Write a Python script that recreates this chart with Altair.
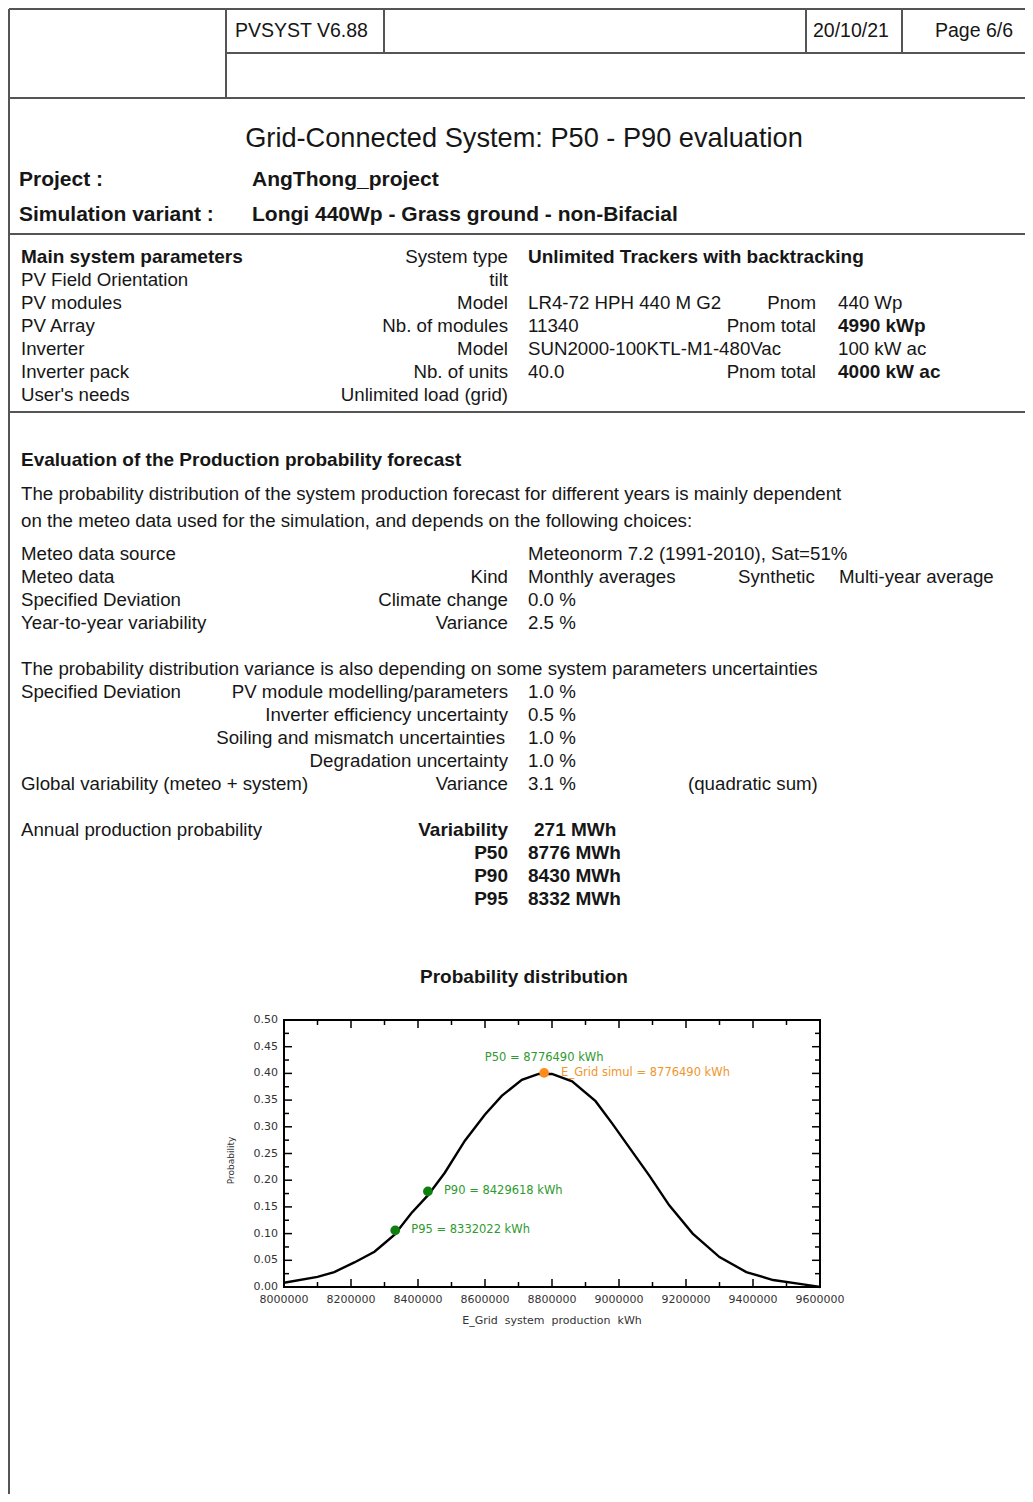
import altair as alt
import pandas as pd

# ---------------- chart values ----------------
E_GRID = [8000000, 8100000, 8150000, 8210000, 8270000, 8300000, 8330000, 8380000,
          8430000, 8480000, 8540000, 8600000, 8650000, 8710000, 8760000, 8800000,
          8860000, 8930000, 8980000, 9040000, 9090000, 9150000, 9220000, 9300000,
          9380000, 9460000, 9550000, 9600000]
PROB = [0.008, 0.019, 0.028, 0.046, 0.066, 0.082, 0.098, 0.138,
        0.172, 0.214, 0.274, 0.323, 0.358, 0.388, 0.399, 0.399,
        0.385, 0.348, 0.306, 0.253, 0.209, 0.153, 0.100, 0.056,
        0.028, 0.013, 0.005, 0.000]

P_NAMES = ["P95", "P90", "P50"]
P_VALUES = [8332022, 8429618, 8776490]
P_PROB = [0.106, 0.179, 0.401]
E_GRID_SIMUL = 8776490

X_LABEL_VALUES = [8000000, 8200000, 8400000, 8600000, 8800000, 9000000, 9200000, 9400000, 9600000]
X_MINOR_TICKS = [8100000, 8300000, 8500000, 8700000, 8900000, 9100000, 9300000, 9500000]
Y_LABEL_VALUES = [0.00, 0.05, 0.10, 0.15, 0.20, 0.25, 0.30, 0.35, 0.40, 0.45, 0.50]
Y_MINOR_TICKS = [0.025, 0.075, 0.125, 0.175, 0.225, 0.275, 0.325, 0.375, 0.425, 0.475]

X_TITLE = "E_Grid\u00a0\u00a0system\u00a0\u00a0production\u00a0\u00a0kWh"
Y_TITLE = "Probability"

# ---------------- document text ----------------
HEADER_TEXT = ["PVSYST V6.88", "20/10/21", "Page 6/6"]
TITLE = "Grid-Connected System: P50 - P90 evaluation"
PROJECT_LABELS = ["Project :", "Simulation variant :"]
PROJECT_VALUES = ["AngThong_project", "Longi 440Wp - Grass ground - non-Bifacial"]

SYS_COL1 = ["Main system parameters", "PV Field Orientation", "PV modules", "PV Array",
            "Inverter", "Inverter pack", "User's needs"]
SYS_COL2 = ["System type", "tilt", "Model", "Nb. of modules", "Model", "Nb. of units",
            "Unlimited load (grid)"]
SYS_COL3 = ["Unlimited Trackers with backtracking", "", "LR4-72 HPH 440 M G2", "11340",
            "SUN2000-100KTL-M1-480Vac", "40.0", ""]
SYS_COL4 = ["", "", "Pnom", "Pnom total", "", "Pnom total", ""]
SYS_COL5 = ["", "", "440 Wp", "4990 kWp", "100 kW ac", "4000 kW ac", ""]

EVAL_TITLE = "Evaluation of the Production probability forecast"
EVAL_PARA = ["The probability distribution of the system production forecast for different years is mainly dependent",
             "on the meteo data used for the simulation, and depends on the following choices:"]
METEO_COL1 = ["Meteo data source", "Meteo data", "Specified Deviation", "Year-to-year variability"]
METEO_COL2 = ["", "Kind", "Climate change", "Variance"]
METEO_COL3 = ["Meteonorm 7.2 (1991-2010), Sat=51%", "Monthly averages", "0.0 %", "2.5 %"]
METEO_EXTRA = ["Synthetic", "Multi-year average"]

UNC_INTRO = "The probability distribution variance is also depending on some system parameters uncertainties"
UNC_COL1 = ["Specified Deviation", "", "", "", "Global variability (meteo + system)"]
UNC_COL2 = ["PV module modelling/parameters", "Inverter efficiency uncertainty",
            "Soiling and mismatch uncertainties", "Degradation uncertainty", "Variance"]
UNC_COL3 = ["1.0 %", "0.5 %", "1.0 %", "1.0 %", "3.1 %"]
UNC_NOTE = "(quadratic sum)"

PROB_LABEL = "Annual production probability"
PROB_KEYS = ["Variability", "P50", "P90", "P95"]
PROB_VALUES = ["271 MWh", "8776 MWh", "8430 MWh", "8332 MWh"]

CHART_TITLE = "Probability distribution"

# ---------------- layout (page pixel coordinates) ----------------
W, H = 536, 267            # plot frame
PX0, PY0 = 284, 1020       # page position of plot frame
PAGE_W, PAGE_H = 1017, 1486
PAD = {"left": PX0 - 8, "top": PY0 - 8,
       "right": PAGE_W - (PX0 - 8) - W, "bottom": PAGE_H - (PY0 - 8) - H}

STYLES = {"hdr": (19.5, "normal"), "title": (27.2, "normal"), "proj": (21, "bold"),
          "r": (18.7, "normal"), "b": (19, "bold"), "ct": (19, "bold")}

rows = []


def add(text, x, y, align, style):
    if text:
        rows.append({"text": text, "lx": x - PX0, "ly": y - PY0, "align": align, "style": style})


for t, x in zip(HEADER_TEXT, [235, 813, 935]):
    add(t, x, 31, "left", "hdr")
add(TITLE, 524, 139, "center", "title")
for i, y in enumerate([180, 215]):
    add(PROJECT_LABELS[i], 19, y, "left", "proj")
    add(PROJECT_VALUES[i], 252, y, "left", "proj")

sys_y = [257, 280, 303, 326, 349, 372, 395]
for i, y in enumerate(sys_y):
    add(SYS_COL1[i], 21, y, "left", "b" if i == 0 else "r")
    add(SYS_COL2[i], 508, y, "right", "r")
    add(SYS_COL3[i], 528, y, "left", "b" if i == 0 else "r")
    add(SYS_COL4[i], 816, y, "right", "r")
    add(SYS_COL5[i], 838, y, "left", "b" if i in (3, 5) else "r")

add(EVAL_TITLE, 21, 460, "left", "b")
add(EVAL_PARA[0], 21, 494, "left", "r")
add(EVAL_PARA[1], 21, 521, "left", "r")
for i, y in enumerate([554, 577, 600, 623]):
    add(METEO_COL1[i], 21, y, "left", "r")
    add(METEO_COL2[i], 508, y, "right", "r")
    add(METEO_COL3[i], 528, y, "left", "r")
add(METEO_EXTRA[0], 738, 577, "left", "r")
add(METEO_EXTRA[1], 839, 577, "left", "r")

add(UNC_INTRO, 21, 669, "left", "r")
for i, y in enumerate([692, 715, 738, 761, 784]):
    add(UNC_COL1[i], 21, y, "left", "r")
    add(UNC_COL2[i], 505 if i == 2 else 508, y, "right", "r")
    add(UNC_COL3[i], 528, y, "left", "r")
add(UNC_NOTE, 688, 784, "left", "r")

add(PROB_LABEL, 21, 830, "left", "r")
for i, y in enumerate([830, 853, 876, 899]):
    add(PROB_KEYS[i], 508, y, "right", "b")
    add(PROB_VALUES[i], 534 if i == 0 else 528, y, "left", "b")

add(CHART_TITLE, 524, 977, "center", "ct")

doc_df = pd.DataFrame(rows)

LINES = [(9, 9, 1025, 9), (9, 9, 9, 1494), (226, 9, 226, 98), (384, 9, 384, 53),
         (806, 9, 806, 53), (902, 9, 902, 53), (226, 53, 1025, 53), (9, 98, 1025, 98),
         (9, 234, 1025, 234), (9, 412, 1025, 412)]
lines_df = pd.DataFrame([{"x1": a - PX0, "y1": b - PY0, "x2": c - PX0, "y2": d - PY0}
                         for a, b, c, d in LINES])

# ---------------- chart ----------------
xs = alt.Scale(domain=[8000000, 9600000], nice=False, zero=False)
ys = alt.Scale(domain=[0, 0.5], nice=False)
CFONT = "DejaVu Sans"
AXC = "#333333"

curve_df = pd.DataFrame({"E": E_GRID, "P": PROB})
curve = alt.Chart(curve_df).mark_line(color="black", strokeWidth=2.4).encode(
    x=alt.X("E:Q", scale=xs, axis=None),
    y=alt.Y("P:Q", scale=ys, axis=None),
)

# axis labels drawn through the scales
xl_df = pd.DataFrame({"E": X_LABEL_VALUES, "t": [str(v) for v in X_LABEL_VALUES]})
x_labels = alt.Chart(xl_df).mark_text(align="center", baseline="middle", fontSize=11,
                                      font=CFONT, color=AXC).encode(
    x=alt.X("E:Q", scale=xs, axis=None), y=alt.value(H + 13), text="t:N")
yl_df = pd.DataFrame({"P": Y_LABEL_VALUES, "t": [f"{v:.2f}" for v in Y_LABEL_VALUES]})
y_labels = alt.Chart(yl_df).mark_text(align="right", baseline="middle", fontSize=11,
                                      font=CFONT, color=AXC).encode(
    y=alt.Y("P:Q", scale=ys, axis=None), x=alt.value(-6), text="t:N")
x_title = alt.Chart(pd.DataFrame({"t": [X_TITLE]})).mark_text(
    align="center", baseline="middle", fontSize=11, font=CFONT, color=AXC).encode(
    x=alt.value(W / 2), y=alt.value(H + 34), text="t:N")
y_title = alt.Chart(pd.DataFrame({"t": [Y_TITLE]})).mark_text(
    align="center", baseline="middle", fontSize=9, font=CFONT, color=AXC, angle=270).encode(
    x=alt.value(-53), y=alt.value(H / 2 + 7), text="t:N")

tick_layers = []
for vals, ln in [(X_LABEL_VALUES, 8), (X_MINOR_TICKS, 5)]:
    tdf = pd.DataFrame({"E": vals})
    for y0, y1 in [(H, H - ln), (0, ln)]:
        tick_layers.append(alt.Chart(tdf).mark_rule(color="black", strokeWidth=1.5).encode(
            x=alt.X("E:Q", scale=xs, axis=None), y=alt.value(y0), y2=alt.value(y1)))
for vals, ln in [(Y_LABEL_VALUES, 8), (Y_MINOR_TICKS, 5)]:
    tdf = pd.DataFrame({"P": vals})
    for x0, x1 in [(0, ln), (W, W - ln)]:
        tick_layers.append(alt.Chart(tdf).mark_rule(color="black", strokeWidth=1.5).encode(
            y=alt.Y("P:Q", scale=ys, axis=None), x=alt.value(x0), x2=alt.value(x1)))

GREEN_PT, ORANGE_PT = "#0f7f0f", "#ff8c1a"
GREEN_TX, ORANGE_TX = "#2f9a2f", "#f0962e"
pts_df = pd.DataFrame({"E": P_VALUES, "P": P_PROB, "name": P_NAMES})
pts_df["col"] = [ORANGE_PT if n == "P50" else GREEN_PT for n in P_NAMES]
points = alt.Chart(pts_df).mark_circle(size=95, opacity=1).encode(
    x=alt.X("E:Q", scale=xs, axis=None), y=alt.Y("P:Q", scale=ys, axis=None),
    color=alt.Color("col:N", scale=None))

ann_layers = []
for n, v, p in zip(P_NAMES, P_VALUES, P_PROB):
    adf = pd.DataFrame({"E": [v], "P": [p], "t": [f"{n} = {v} kWh"]})
    if n == "P50":
        mk = alt.Chart(adf).mark_text(align="center", baseline="middle", dy=-15,
                                      fontSize=11.5, font=CFONT, color=GREEN_TX)
    else:
        mk = alt.Chart(adf).mark_text(align="left", baseline="middle", dx=16,
                                      fontSize=11.5, font=CFONT, color=GREEN_TX)
    ann_layers.append(mk.encode(x=alt.X("E:Q", scale=xs, axis=None),
                                y=alt.Y("P:Q", scale=ys, axis=None), text="t:N"))
sdf = pd.DataFrame({"E": [E_GRID_SIMUL], "P": [P_PROB[2]],
                    "t": [f"E_Grid simul = {E_GRID_SIMUL} kWh"]})
ann_layers.append(alt.Chart(sdf).mark_text(align="left", baseline="middle", dx=17,
                                           fontSize=11.5, font=CFONT, color=ORANGE_TX).encode(
    x=alt.X("E:Q", scale=xs, axis=None), y=alt.Y("P:Q", scale=ys, axis=None), text="t:N"))

# ---------------- document layers ----------------
line_layer = alt.Chart(lines_df).mark_rule(color="#555555", strokeWidth=2).encode(
    x=alt.X("x1:Q", scale=None, axis=None), x2="x2:Q",
    y=alt.Y("y1:Q", scale=None, axis=None), y2="y2:Q")

text_layers = []
for (style, align), g in doc_df.groupby(["style", "align"]):
    size, weight = STYLES[style]
    text_layers.append(alt.Chart(g.reset_index(drop=True)).mark_text(
        align=align, baseline="middle", fontSize=size, fontWeight=weight,
        font="Liberation Sans", color="#161616").encode(
        x=alt.X("lx:Q", scale=None, axis=None),
        y=alt.Y("ly:Q", scale=None, axis=None),
        text="text:N"))

chart = alt.layer(curve, *tick_layers, points, *ann_layers, x_labels, y_labels, x_title, y_title,
                  line_layer, *text_layers).properties(
    width=W, height=H, padding=PAD, autosize=alt.AutoSizeParams(type="none"),
    background="white",
).configure_view(stroke="black", strokeWidth=2)

chart.save("out.html", embed_options={"renderer": "svg", "actions": False})
